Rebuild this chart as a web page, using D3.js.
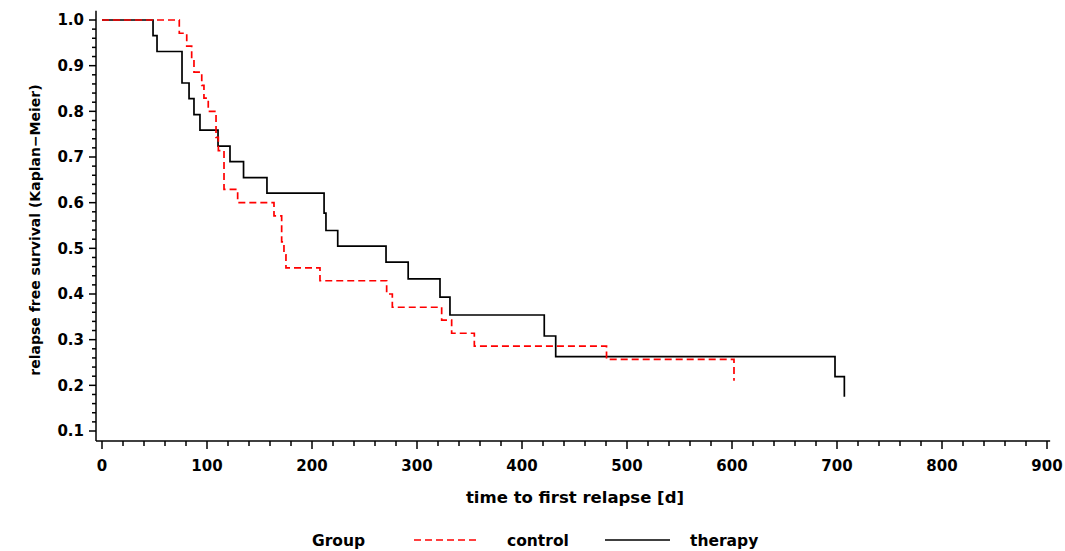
<!DOCTYPE html>
<html>
<head>
<meta charset="utf-8">
<script src="https://cdn.jsdelivr.net/npm/d3@7"></script>
<style>
body { margin: 0; background: #fff; }
text { font-family: "DejaVu Sans", sans-serif; font-weight: bold; fill: #000; }
</style>
</head>
<body>
<div id="chart"></div>
<script>
// Kaplan-Meier steps
var therapyTime = [0, 48.6, 52.4, 76.2, 82.9, 87.6, 93.3, 110.5, 121.9, 134.8, 157.1, 211.5, 213.3, 224.5, 270.5, 291.6, 321.9, 331.4, 421.2, 432.1, 698.1, 707];
var therapySurv = [1.0, 0.966, 0.931, 0.862, 0.828, 0.793, 0.759, 0.724, 0.690, 0.655, 0.621, 0.577, 0.539, 0.505, 0.470, 0.433, 0.393, 0.354, 0.308, 0.263, 0.219, 0.175];

var controlTime = [0, 73.6, 80.7, 85.4, 87.6, 95, 97.1, 101.2, 108.6, 110.8, 116.2, 129.2, 163.8, 171.1, 173.3, 175.2, 207.6, 271.1, 276.5, 323.5, 333, 354.6, 480.5, 601.9];
var controlSurv = [1.0, 0.971, 0.943, 0.914, 0.886, 0.857, 0.829, 0.8, 0.743, 0.714, 0.629, 0.6, 0.571, 0.514, 0.486, 0.457, 0.429, 0.4, 0.371, 0.343, 0.314, 0.286, 0.257, 0.21];

var xTicks = [0, 100, 200, 300, 400, 500, 600, 700, 800, 900];
var yTicks = [0.1, 0.2, 0.3, 0.4, 0.5, 0.6, 0.7, 0.8, 0.9, 1.0];
var groups = ["control", "therapy"];

var width = 1065, height = 551;

var svg = d3.select("#chart").append("svg")
    .attr("width", width)
    .attr("height", height);

var x = d3.scaleLinear().domain([0, 900]).range([102, 1047]);
var y = d3.scaleLinear().domain([0.1, 1.0]).range([431, 20]);

var axisX = 96, axisY = 441;

// axis lines
svg.append("line")
    .attr("x1", axisX).attr("x2", axisX)
    .attr("y1", y(1.02)).attr("y2", axisY)
    .attr("stroke", "#000").attr("stroke-width", 1.5);
svg.append("line")
    .attr("x1", axisX).attr("x2", x(903))
    .attr("y1", axisY).attr("y2", axisY)
    .attr("stroke", "#000").attr("stroke-width", 1.5);

// y ticks
var yMinor = d3.range(10, 101, 2).map(function(v) { return v / 100; });
svg.selectAll(".yminor").data(yMinor).enter().append("line")
    .attr("x1", function(d) { return Math.round(d * 100) % 10 == 0 ? axisX - 7 : axisX - 4; })
    .attr("x2", axisX)
    .attr("y1", function(d) { return y(d); })
    .attr("y2", function(d) { return y(d); })
    .attr("stroke", "#000").attr("stroke-width", 1.5);

svg.selectAll(".ylab").data(yTicks).enter().append("text")
    .attr("x", axisX - 12)
    .attr("y", function(d) { return y(d); })
    .attr("dy", "0.36em")
    .style("text-anchor", "end")
    .style("font-size", "15px")
    .text(function(d) { return d.toFixed(1); });

// x ticks
var xMinor = d3.range(0, 901, 20);
svg.selectAll(".xminor").data(xMinor).enter().append("line")
    .attr("x1", function(d) { return x(d); })
    .attr("x2", function(d) { return x(d); })
    .attr("y1", axisY)
    .attr("y2", function(d) { return d % 100 == 0 ? axisY + 8 : axisY + 5; })
    .attr("stroke", "#000").attr("stroke-width", 1.5);

svg.selectAll(".xlab").data(xTicks).enter().append("text")
    .attr("x", function(d) { return x(d); })
    .attr("y", 466)
    .attr("dy", "0.36em")
    .style("text-anchor", "middle")
    .style("font-size", "15px")
    .text(function(d) { return d; });

// axis titles
svg.append("text")
    .attr("x", 575).attr("y", 497)
    .attr("dy", "0.36em")
    .style("text-anchor", "middle")
    .style("font-size", "16.5px")
    .text("time to first relapse [d]");

svg.append("text")
    .attr("transform", "translate(35,230) rotate(-90)")
    .attr("dy", "0.36em")
    .style("text-anchor", "middle")
    .style("font-size", "14px")
    .text("relapse free survival (Kaplan\u2212Meier)");

// curves
var line = d3.line()
    .x(function(d) { return x(d[0]); })
    .y(function(d) { return y(d[1]); })
    .curve(d3.curveStepAfter);

var therapyPts = d3.zip(therapyTime, therapySurv);
var controlPts = d3.zip(controlTime, controlSurv);

svg.append("path")
    .datum(therapyPts)
    .attr("d", line)
    .attr("fill", "none")
    .attr("stroke", "#000")
    .attr("stroke-width", 1.7);

svg.append("path")
    .datum(controlPts)
    .attr("d", line)
    .attr("fill", "none")
    .attr("stroke", "#ff0000")
    .attr("stroke-width", 1.7)
    .attr("stroke-dasharray", "7,4");

// legend
var legY = 540;
svg.append("text")
    .attr("x", 312).attr("y", legY).attr("dy", "0.36em")
    .style("font-size", "15.5px")
    .text("Group");

svg.append("line")
    .attr("x1", 414).attr("x2", 480)
    .attr("y1", legY).attr("y2", legY)
    .attr("stroke", "#ff0000").attr("stroke-width", 1.7)
    .attr("stroke-dasharray", "7,4");
svg.append("text")
    .attr("x", 507).attr("y", legY).attr("dy", "0.36em")
    .style("font-size", "15.5px")
    .text(groups[0]);

svg.append("line")
    .attr("x1", 605).attr("x2", 670)
    .attr("y1", legY).attr("y2", legY)
    .attr("stroke", "#000").attr("stroke-width", 1.7);
svg.append("text")
    .attr("x", 690).attr("y", legY).attr("dy", "0.36em")
    .style("font-size", "15.5px")
    .text(groups[1]);
</script>
</body>
</html>
